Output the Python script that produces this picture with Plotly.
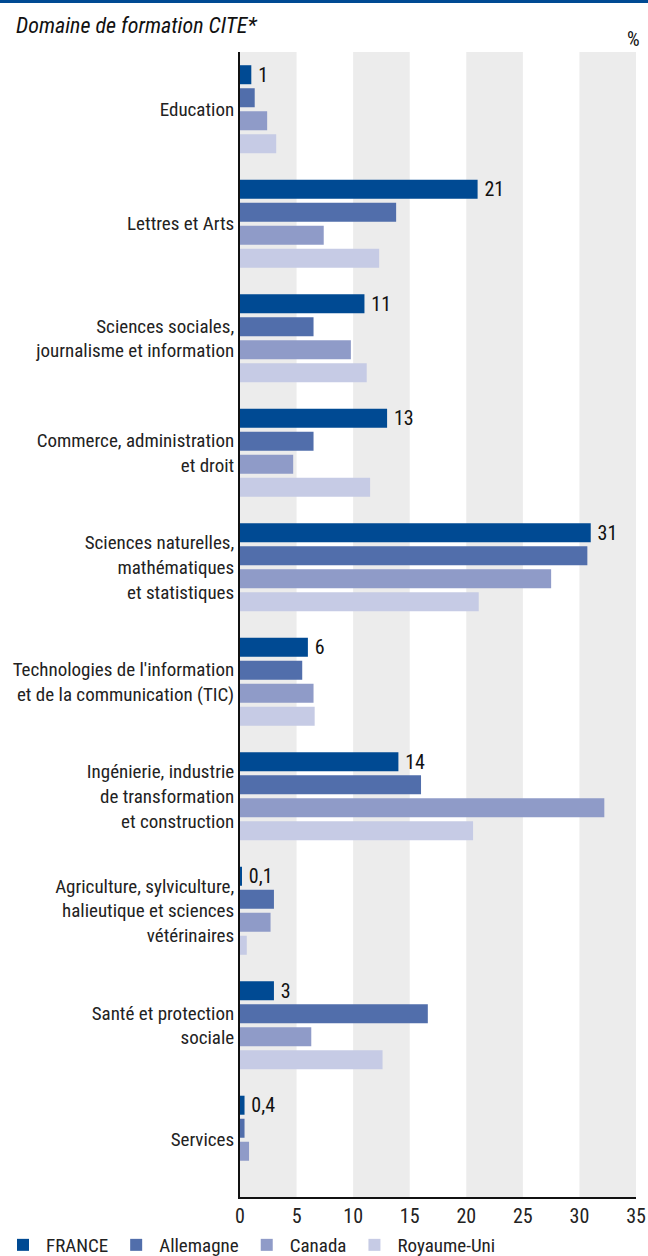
import plotly.graph_objects as go

categories = [
    "Education",
    "Lettres et Arts",
    "Sciences sociales,<br>journalisme et information",
    "Commerce, administration<br>et droit",
    "Sciences naturelles,<br>mathématiques<br>et statistiques",
    "Technologies de l'information<br>et de la communication (TIC)",
    "Ingénierie, industrie<br>de transformation<br>et construction",
    "Agriculture, sylviculture,<br>halieutique et sciences<br>vétérinaires",
    "Santé et protection<br>sociale",
    "Services",
]

france = [1, 21, 11, 13, 31, 6, 14, 0.1, 3, 0.4]
france_labels = ["1", "21", "11", "13", "31", "6", "14", "0,1", "3", "0,4"]
allemagne = [1.3, 13.8, 6.5, 6.5, 30.7, 5.5, 16.0, 3.0, 16.6, 0.4]
canada = [2.4, 7.4, 9.8, 4.7, 27.5, 6.5, 32.2, 2.7, 6.3, 0.8]
royaume_uni = [3.2, 12.3, 11.2, 11.5, 21.1, 6.6, 20.6, 0.6, 12.6, 0]

x_ticks = [0, 5, 10, 15, 20, 25, 30, 35]

series = [
    ("FRANCE", france, "#004a93"),
    ("Allemagne", allemagne, "#516eab"),
    ("Canada", canada, "#8f9bc8"),
    ("Royaume-Uni", royaume_uni, "#c6cbe5"),
]

FONT = "Roboto Condensed, Liberation Sans Narrow, DejaVu Sans Condensed, Roboto, sans-serif"

# plot area in pixels
L, R, T, B = 240, 12, 52, 59
PW, PH = 648 - L - R, 1256 - T - B

fig = go.Figure()
for name, vals, color in series:
    kw = {}
    if name == "FRANCE":
        kw = dict(text=france_labels, texttemplate="\u2009%{text}",
                  textposition="outside", constraintext="none",
                  textfont=dict(family=FONT, size=20, color="#111111"),
                  cliponaxis=False)
    fig.add_trace(go.Bar(
        y=categories, x=vals, name=name, orientation="h",
        marker=dict(color=color, line=dict(width=0)),
        hoverinfo="x+name", **kw,
    ))

# alternating grey bands behind the bars
shapes = []
for x0 in range(0, 35, 10):
    shapes.append(dict(type="rect", xref="x", yref="paper", x0=x0, x1=x0 + 5,
                       y0=0, y1=1, fillcolor="#ececec", line=dict(width=0),
                       layer="below"))
# top rule
shapes.append(dict(type="rect", xref="paper", yref="paper",
                   x0=-L / PW, x1=1 + R / PW, y0=1 + 49 / PH, y1=1 + 53 / PH,
                   fillcolor="#004a93", line=dict(width=0)))

fig.update_layout(
    width=648, height=1256,
    margin=dict(l=L, r=R, t=T, b=B, autoexpand=False),
    paper_bgcolor="white", plot_bgcolor="white",
    barmode="group", bargap=0.196, bargroupgap=0.174,
    uniformtext=dict(mode=False),
    font=dict(family=FONT, size=19, color="#222222"),
    shapes=shapes,
    showlegend=True,
    legend=dict(orientation="h", xref="paper", yref="paper",
                x=(0 - L) / PW, y=(1197 - 1245) / PH, xanchor="left", yanchor="middle",
                bgcolor="rgba(0,0,0,0)", itemwidth=36,
                font=dict(family=FONT, size=19, color="#222222"),
                traceorder="normal", itemclick=False),
    annotations=[
        dict(text="<i>Domaine de formation CITE*</i>", xref="paper", yref="paper",
             x=(14 - L) / PW, y=1 + 26 / PH, xanchor="left", yanchor="middle",
             showarrow=False, font=dict(family=FONT, size=22, color="#111111")),
        dict(text="%", xref="paper", yref="paper", x=1 + 6 / PW, y=1 + 13 / PH,
             xanchor="right", yanchor="middle", showarrow=False,
             font=dict(family=FONT, size=20, color="#111111")),
    ],
)

fig.update_xaxes(range=[0, 35], tickvals=x_ticks, showgrid=False, zeroline=False,
                 showline=True, linecolor="#111111", linewidth=2, ticks="",
                 automargin=False,
                 tickfont=dict(family=FONT, size=20, color="#222222"), fixedrange=True)
fig.update_yaxes(autorange="reversed", showgrid=False, showline=True,
                 linecolor="#111111", linewidth=2, ticks="", automargin=False,
                 tickfont=dict(family=FONT, size=19, color="#222222"), fixedrange=True)

fig.write_html("out.html")
